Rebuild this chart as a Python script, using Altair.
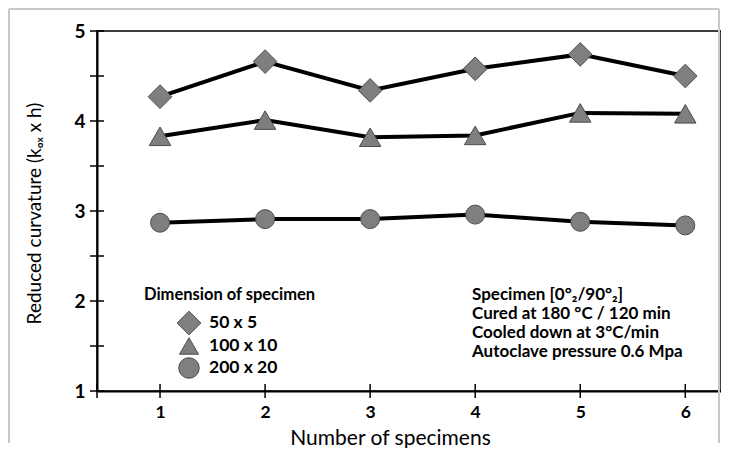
import altair as alt
import pandas as pd

specimens = [1, 2, 3, 4, 5, 6]
series_names = ["50 x 5", "100 x 10", "200 x 20"]
vals_50x5 = [4.27, 4.66, 4.34, 4.58, 4.74, 4.50]
vals_100x10 = [3.83, 4.01, 3.82, 3.84, 4.09, 4.08]
vals_200x20 = [2.87, 2.91, 2.91, 2.96, 2.88, 2.84]
y_ticks = [1, 1.5, 2, 2.5, 3, 3.5, 4, 4.5, 5]
x_ticks = [0.4, 1, 2, 3, 4, 5, 6]
legend_title = "Dimension of specimen"
info_lines = ["Specimen [0°\u2082/90°\u2082]", "Cured at 180 °C / 120 min",
              "Cooled down at 3°C/min", "Autoclave pressure 0.6 Mpa"]

rows = []
for name, vals in zip(series_names, [vals_50x5, vals_100x10, vals_200x20]):
    for s, v in zip(specimens, vals):
        rows.append({"n": s, "v": v, "series": name})
df = pd.DataFrame(rows)

FONT = "Lato"
W, H = 624, 360
xs = alt.Scale(domain=[0.4, 6.34], nice=False, zero=False)
ys = alt.Scale(domain=[1, 5], nice=False, zero=False)
shapes = ["diamond", "triangle-up", "circle"]
sizes = [560, 360, 420]
shape_scale = alt.Scale(domain=series_names, range=shapes)
size_scale = alt.Scale(domain=series_names, range=sizes)
FILL = "#7f7f7f"
EDGE = "#4d4d4d"

base = alt.Chart(df)

lines = base.mark_line(color="black", strokeWidth=4).encode(
    x=alt.X("n:Q", scale=xs,
            axis=alt.Axis(values=specimens, format="d", ticks=False, grid=False, domainColor="black",
                          domainWidth=2, labelFont=FONT, labelFontWeight="bold", labelFontSize=17.5,
                          labelColor="black", labelPadding=12, title="Number of specimens",
                          titleFont=FONT, titleFontSize=21, titleFontWeight="normal",
                          titleColor="black", titleX=293, titleY=47, titleBaseline="middle")),
    y=alt.Y("v:Q", scale=ys,
            axis=alt.Axis(values=[1, 2, 3, 4, 5], format="d", ticks=False, grid=False, domainColor="black",
                          domainWidth=2, labelFont=FONT, labelFontWeight="bold", labelFontSize=19,
                          labelColor="black", labelPadding=12,
                          title="Reduced curvature (k\u2092\u2093 x h)",
                          titleFont=FONT, titleFontSize=19, titleFontWeight="normal",
                          titleColor="black", titleX=-63, titleY=H / 2 + 2, titleAngle=-90,
                          titleAlign="center", titleBaseline="middle")),
    detail="series:N",
)

points = base.mark_point(filled=True, fill=FILL, stroke=EDGE, strokeWidth=1, opacity=1).encode(
    x=alt.X("n:Q", scale=xs),
    y=alt.Y("v:Q", scale=ys),
    shape=alt.Shape("series:N", scale=shape_scale, legend=None),
    size=alt.Size("series:N", scale=size_scale, legend=None),
)

ytick_df = pd.DataFrame({"t": y_ticks})
yticks = alt.Chart(ytick_df).mark_rule(color="black", strokeWidth=1.5).encode(
    y=alt.Y("t:Q", scale=ys), x=alt.value(-7), x2=alt.value(7))

xtick_df = pd.DataFrame({"t": x_ticks})
xticks = alt.Chart(xtick_df).mark_rule(color="black", strokeWidth=1.5).encode(
    x=alt.X("t:Q", scale=xs), y=alt.value(H - 7), y2=alt.value(H + 7))

frame_color = "#c8c8c8"
FL, FR, FT, FB = -88, 622, -22, 412
frame_left = alt.Chart(ytick_df).mark_rule(color=frame_color, strokeWidth=1.5).encode(
    x=alt.value(FL), y=alt.value(FT), y2=alt.value(FB))
frame_top = alt.Chart(ytick_df).mark_rule(color=frame_color, strokeWidth=1.5).encode(
    x=alt.value(FL), x2=alt.value(FR), y=alt.value(FT))
frame_right = alt.Chart(ytick_df).mark_rule(color=frame_color, strokeWidth=1.5).encode(
    x=alt.value(FR), y=alt.value(FT), y2=alt.value(FB))

one = pd.DataFrame({"a": [0]})
leg_title = alt.Chart(one).mark_text(font=FONT, fontWeight="bold", fontSize=16.5, align="left",
                                     baseline="middle", color="black").encode(
    x=alt.value(47), y=alt.value(264), text=alt.value(legend_title))

leg_layers = []
leg_y = [292, 315, 337]
for name, yy, shp, sz in zip(series_names, leg_y, shapes, sizes):
    leg_layers.append(alt.Chart(one).mark_point(filled=True, fill=FILL, stroke=EDGE, strokeWidth=1,
                                                opacity=1, shape=shp, size=sz).encode(
        x=alt.value(92), y=alt.value(yy)))
    leg_layers.append(alt.Chart(one).mark_text(font=FONT, fontWeight="bold", fontSize=17.5,
                                               align="left", baseline="middle", color="black").encode(
        x=alt.value(112), y=alt.value(yy), text=alt.value(name)))

info = alt.Chart(one).mark_text(font=FONT, fontWeight="bold", fontSize=17, align="left",
                                baseline="middle", color="black", lineHeight=19).encode(
    x=alt.value(375), y=alt.value(264), text=alt.value(info_lines))

chart = alt.layer(frame_left, frame_top, frame_right, lines, points, yticks, xticks,
                  leg_title, info, *leg_layers).properties(
    width=W, height=H, padding={"left": 0, "top": 0, "right": 0, "bottom": 0},
    background="white",
).configure_view(stroke="black", strokeWidth=1.5)

chart.save("out.html", embed_options={"renderer": "svg", "actions": False})
